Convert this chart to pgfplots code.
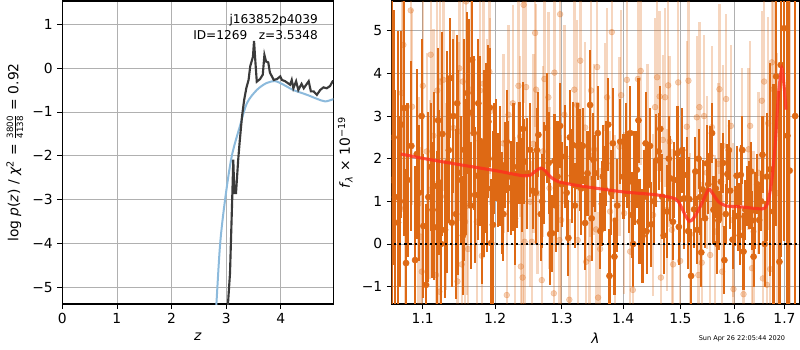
\documentclass[border=0pt]{standalone}
\usepackage{fontspec}
\setmainfont{DejaVu Sans}
\usepackage{pgfplots}
\usepackage{pgfplotstable}
\pgfplotsset{compat=1.18}
\definecolor{darkor}{RGB}{222,105,20}
\definecolor{modelred}{RGB}{255,45,30}
\definecolor{pzblack}{RGB}{58,58,58}
\definecolor{pzblue}{RGB}{140,186,220}
\definecolor{gridgray}{RGB}{176,176,176}

\pgfplotstableread{
x y e
1.0601 1.50 5.0
1.0620 2.50 3.0
1.0639 1.10 2.5
1.0677 0.50 4.5
1.0700 1.00 2.0
1.0720 2.80 2.2
1.0759 3.19 3.0
1.0781 -0.45 2.2
1.0800 1.50 1.8
1.0850 2.30 2.0
1.0899 -0.38 2.2
1.0921 2.11 2.0
1.0950 1.20 1.6
1.0985 3.00 1.8
1.1008 0.42 1.7
1.1044 -0.96 1.9
1.1074 1.10 2.0
1.1110 1.81 1.5
1.1130 0.80 1.6
1.1154 1.36 2.2
1.1186 0.39 1.8
1.1205 2.90 1.7
1.1222 1.44 1.7
1.1245 0.00 1.4
1.1263 2.58 2.4
1.1299 0.33 1.6
1.1331 1.92 2.6
1.1350 2.20 1.7
1.1372 3.89 1.4
1.1390 0.50 1.5
1.1413 3.00 1.8
1.1450 0.70 2.0
1.1465 3.30 1.6
1.1481 1.67 2.4
1.1523 1.50 1.5
1.1545 0.20 1.4
1.1561 2.21 2.6
1.1590 1.80 1.6
1.1607 3.54 1.9
1.1635 3.08 2.2
1.1655 0.90 1.5
1.1673 4.32 1.7
1.1695 2.60 1.8
1.1715 1.15 1.6
1.1750 1.60 1.5
1.1760 3.30 1.5
1.1785 2.42 2.0
1.1810 0.75 1.7
1.1843 1.89 2.2
1.1871 2.25 2.0
1.1890 1.30 1.5
1.1904 2.87 1.8
1.1925 3.20 1.4
1.1943 0.02 1.5
1.1968 0.45 2.2
1.1990 2.00 1.3
1.2010 2.20 1.2
1.2039 1.50 1.1
1.2068 1.83 1.4
1.2103 0.96 1.2
1.2120 0.70 1.1
1.2146 1.85 1.0
1.2170 2.40 1.2
1.2194 1.58 1.3
1.2229 1.31 1.1
1.2268 1.81 1.5
1.2290 0.60 1.1
1.2318 1.38 1.0
1.2357 2.13 1.2
1.2392 1.38 1.1
1.2410 2.70 1.1
1.2431 1.93 1.0
1.2476 1.66 1.3
1.2517 2.21 1.1
1.2557 1.25 0.9
1.2600 1.20 1.2
1.2620 2.20 1.0
1.2642 2.56 1.0
1.2679 0.70 1.1
1.2700 1.00 1.1
1.2730 1.66 1.2
1.2772 2.72 1.3
1.2800 1.90 1.2
1.2822 0.23 1.2
1.2853 0.25 0.9
1.2889 1.95 1.1
1.2910 0.90 1.1
1.2936 1.58 1.3
1.2977 2.77 1.0
1.3000 1.40 1.0
1.3055 2.05 1.2
1.3080 1.20 1.1
1.3107 0.14 0.9
1.3130 2.50 1.1
1.3161 1.60 1.1
1.3177 2.32 1.0
1.3210 0.90 1.0
1.3251 2.30 1.0
1.3293 1.97 1.2
1.3310 1.30 1.1
1.3337 2.30 0.9
1.3374 0.49 1.1
1.3411 1.66 1.0
1.3454 3.26 1.3
1.3480 0.60 1.0
1.3508 1.97 1.1
1.3535 1.66 0.9
1.3580 2.60 1.1
1.3620 0.30 0.9
1.3645 0.94 1.0
1.3662 1.58 1.2
1.3690 1.30 1.0
1.3716 1.89 1.0
1.3750 2.80 1.1
1.3771 -0.75 1.1
1.3800 1.20 1.0
1.3827 2.36 1.3
1.3854 -0.30 0.9
1.3900 0.90 1.1
1.3950 2.40 1.0
1.4006 1.58 1.0
1.4051 2.21 1.1
1.4073 1.74 0.9
1.4097 1.46 1.2
1.4120 2.60 1.1
1.4149 0.68 1.0
1.4170 0.00 1.0
1.4193 1.54 1.1
1.4234 1.74 0.9
1.4260 2.90 1.0
1.4279 0.52 1.0
1.4331 0.19 1.1
1.4350 1.10 1.1
1.4383 2.36 1.2
1.4400 0.30 1.0
1.4425 1.38 1.0
1.4460 2.30 0.9
1.4483 0.46 1.0
1.4530 1.00 1.0
1.4572 1.96 1.1
1.4612 2.17 0.9
1.4640 2.70 1.0
1.4672 1.11 1.0
1.4700 0.20 0.9
1.4762 0.76 1.1
1.4790 2.00 1.0
1.4815 1.54 1.0
1.4864 0.52 0.9
1.4890 1.50 0.9
1.4946 2.13 1.1
1.4970 0.40 0.9
1.4994 1.05 1.0
1.5030 2.20 1.0
1.5066 1.07 1.2
1.5114 1.62 0.9
1.5140 0.30 0.9
1.5162 1.05 1.0
1.5193 -0.75 1.1
1.5248 0.81 0.9
1.5270 1.70 0.8
1.5308 0.33 0.8
1.5330 2.00 0.7
1.5359 1.10 0.9
1.5380 -0.20 0.8
1.5408 1.28 0.7
1.5450 0.60 0.7
1.5483 1.89 0.9
1.5510 1.40 0.7
1.5545 2.07 0.7
1.5580 2.60 0.7
1.5607 0.80 0.8
1.5650 1.30 0.7
1.5680 0.00 0.7
1.5701 0.55 0.7
1.5746 1.46 0.9
1.5790 1.90 0.7
1.5814 -0.38 0.8
1.5840 0.70 0.7
1.5871 1.64 0.7
1.5900 2.20 0.7
1.5924 1.25 0.9
1.5970 0.10 0.7
1.6020 0.66 0.7
1.6050 1.60 0.7
1.6084 0.64 0.8
1.6110 0.20 0.7
1.6131 1.62 0.7
1.6160 2.20 0.8
1.6182 -0.18 0.9
1.6220 0.80 0.7
1.6261 1.13 0.7
1.6300 1.15 0.8
1.6330 1.70 0.7
1.6348 0.55 0.7
1.6380 -0.30 0.7
1.6410 0.78 0.9
1.6450 1.40 0.7
1.6490 0.56 0.8
1.6530 1.00 0.7
1.6556 2.09 0.9
1.6600 0.00 1.0
1.6645 1.58 1.5
1.6709 1.75 2.5
1.6776 0.76 3.0
1.6830 3.93 3.5
1.6897 -0.42 4.0
1.6925 4.20 4.5
1.6993 5.06 5.0
1.7060 2.54 5.5
1.7102 1.72 6.0
1.7220 3.00 6.0
}\darkdata

\pgfplotstableread{
x y e
1.0725 3.54 2.8
1.0746 4.67 2.5
1.0768 0.84 2.3
1.0842 5.48 2.8
1.0859 3.22 2.3
1.0942 0.94 2.5
1.0974 0.17 2.1
1.0987 -0.65 2.3
1.1000 3.71 2.6
1.1053 2.17 2.3
1.1097 1.27 2.1
1.1106 4.44 2.3
1.1141 2.54 2.5
1.1177 -0.73 2.2
1.1194 3.60 2.4
1.1222 -1.12 2.1
1.1232 3.81 2.3
1.1276 3.85 2.6
1.1313 1.11 2.2
1.1413 2.72 2.3
1.1469 -0.88 2.2
1.1481 2.64 2.1
1.1495 4.12 2.4
1.1528 -0.48 2.3
1.1542 3.81 2.2
1.1575 0.52 2.3
1.1588 5.69 2.5
1.1598 0.89 2.1
1.1616 -0.12 2.2
1.1658 3.62 2.3
1.1738 0.52 2.1
1.1785 3.60 2.4
1.1810 -0.28 2.2
1.1833 3.76 2.3
1.1881 2.72 2.1
1.1918 4.04 2.4
1.1928 3.11 2.2
1.2121 2.36 2.1
1.2170 -1.20 2.0
1.2194 3.03 2.1
1.2259 3.30 2.3
1.2293 0.52 2.0
1.2342 3.71 2.2
1.2367 2.52 1.9
1.2378 -0.53 2.1
1.2404 -0.79 2.0
1.2419 5.61 2.3
1.2434 0.05 1.9
1.2457 3.68 2.1
1.2517 0.99 2.0
1.2542 0.05 1.9
1.2567 2.35 2.1
1.2592 4.95 2.2
1.2607 3.62 2.0
1.2630 1.19 1.9
1.2694 -0.85 2.1
1.2709 2.17 2.0
1.2734 3.87 2.1
1.2795 3.44 2.0
1.2811 1.31 1.9
1.2879 -1.16 2.1
1.2888 4.02 2.2
1.2966 0.09 2.0
1.2977 5.39 2.3
1.2993 0.56 2.0
1.3044 3.03 2.1
1.3122 -1.31 1.9
1.3201 3.62 2.1
1.3244 3.26 2.0
1.3255 0.09 1.9
1.3296 4.30 2.2
1.3374 2.73 2.0
1.3390 -0.42 2.1
1.3443 -0.34 2.0
1.3449 2.07 1.9
1.3470 3.60 2.1
1.3519 2.22 2.0
1.3551 0.34 1.9
1.3568 4.15 2.2
1.3584 -1.26 2.0
1.3617 -0.12 1.9
1.3699 2.72 2.0
1.3732 3.44 2.1
1.3782 0.76 1.9
1.3810 4.97 2.2
1.3865 0.56 2.0
1.3937 2.28 2.1
1.3966 3.49 2.0
1.4017 0.72 1.9
1.4063 3.85 2.1
1.4118 -0.18 2.0
1.4164 -1.08 1.9
1.4250 3.87 2.1
1.4298 4.06 2.2
1.4418 2.22 2.0
1.4514 0.68 1.9
1.4549 3.21 2.1
1.4584 3.91 2.2
1.4628 3.46 2.0
1.4650 -0.79 1.9
1.4686 2.44 2.0
1.4725 3.44 2.1
1.4761 0.80 1.9
1.4779 3.72 2.1
1.4806 2.40 2.0
1.4845 0.33 1.9
1.4868 -0.48 2.0
1.4958 3.79 2.1
1.4994 -0.40 1.9
1.5114 2.75 2.0
1.5145 3.83 2.1
1.5175 0.23 1.9
1.5298 2.97 1.9
1.5326 -0.73 1.8
1.5345 3.21 2.0
1.5389 -0.44 1.9
1.5432 3.00 1.9
1.5483 1.67 1.8
1.5545 -0.26 1.9
1.5577 2.74 1.9
1.5639 0.29 1.8
1.5701 1.88 1.9
1.5720 3.63 2.0
1.5771 -0.65 1.8
1.5790 2.30 1.9
1.5847 3.40 2.0
1.5937 2.77 1.9
1.5975 0.56 1.8
1.5987 -1.06 1.9
1.6150 2.22 1.9
1.6182 -1.18 1.8
1.6280 2.22 1.9
1.6312 2.77 2.0
1.6348 -0.57 1.8
1.6378 0.29 1.9
1.6477 1.67 1.9
1.6543 3.36 2.1
1.6563 -0.81 2.0
1.6589 3.81 2.3
1.6643 -0.96 2.3
1.6669 2.83 2.5
1.6709 -0.59 2.7
1.6743 4.26 2.9
1.6776 3.63 3.1
1.6844 1.19 3.3
1.7116 1.72 4.3
}\lightdata

\begin{document}
\begin{tikzpicture}[font=\fontsize{10.4}{12}\selectfont]
\useasboundingbox (0,0) rectangle (600pt,262.5pt);
\pgfplotsset{
  mystyle/.style={
    scale only axis,
    axis line style={line width=0.8pt},
    grid=major,
    major grid style={color=gridgray, line width=0.6pt},
    tick align=outside,
    major tick length=3.6pt,
    tick style={line width=0.6pt, black},
    xtick pos=bottom, ytick pos=left,
    tick label style={font=\fontsize{10.4}{12}\selectfont},
    label style={font=\fontsize{10.4}{12}\selectfont},
    /pgf/number format/assume math mode=true,
    clip marker paths=true,
  }
}
% left panel
\begin{axis}[mystyle,
  at={(46.7pt,34.5pt)}, anchor=south west,
  width=203.25pt, height=227.25pt,
  xmin=0, xmax=4.96, ymin=-5.38, ymax=1.53,
  xtick={0,1,2,3,4},
  ytick={-5,-4,-3,-2,-1,0,1},
  yticklabels={−5,−4,−3,−2,−1,0,1},
  xlabel={\textit{z}},
  ylabel={log \textit{p}(\textit{z}) / \textit{χ}\textsuperscript{2} = $\frac{\hbox{\fontsize{6.5}{7}\selectfont 3800}}{\hbox{\fontsize{6.5}{7}\selectfont 4138}}$ = 0.92},
]
\addplot[pzblue, line width=1.5pt, smooth] coordinates {
(2.79,-6.0) (2.82,-5.4) (2.89,-4.0) (2.98,-3.0) (3.10,-2.02) (3.25,-1.33)
(3.38,-0.8) (3.56,-0.5) (3.74,-0.34) (3.90,-0.30) (4.05,-0.38) (4.23,-0.50)
(4.48,-0.61) (4.66,-0.70) (4.81,-0.76) (4.96,-0.71) (5.0,-0.70)
};
\addplot[pzblack, line width=1.6pt] coordinates {
(3.00,-6.0) (3.07,-4.68) (3.11,-3.0) (3.13,-2.09) (3.15,-2.85) (3.18,-2.85)
(3.22,-2.09) (3.25,-1.64) (3.29,-1.1) (3.33,-0.72) (3.37,-0.45) (3.41,-0.27) (3.44,0.04)
(3.49,0.26) (3.51,0.62) (3.53,0.23) (3.56,-0.31) (3.62,-0.25) (3.67,-0.15)
(3.70,0.30) (3.73,0.15) (3.77,0.13) (3.80,-0.10) (3.87,-0.27) (3.93,-0.25)
(3.99,-0.19) (4.02,-0.27) (4.08,-0.30) (4.17,-0.38) (4.20,-0.27) (4.23,-0.46)
(4.28,-0.30) (4.32,-0.50) (4.38,-0.36) (4.42,-0.46) (4.51,-0.30) (4.55,-0.53)
(4.60,-0.53) (4.66,-0.61) (4.72,-0.50) (4.78,-0.44) (4.84,-0.46) (4.90,-0.41)
(4.95,-0.30) (5.0,-0.30)
};
\node[anchor=east, inner sep=0pt, font=\fontsize{9.1}{11}\selectfont] at (rel axis cs:0.944,0.937) {j163852p4039};
\node[anchor=east, inner sep=0pt, font=\fontsize{9.1}{11}\selectfont] at (rel axis cs:0.944,0.888) {ID=1269\ \ \ z=3.5348};
\end{axis}

% right panel
\begin{axis}[mystyle,
  at={(293.8pt,34.5pt)}, anchor=south west,
  width=305.5pt, height=227.25pt,
  xmode=log,
  xmin=1.0597, xmax=1.7302, ymin=-1.41, ymax=5.7,
  xtick={1.1,1.2,1.3,1.4,1.5,1.6,1.7},
  xticklabels={1.1,1.2,1.3,1.4,1.5,1.6,1.7},
  minor xtick={},
  ytick={-1,0,1,2,3,4,5},
  yticklabels={−1,0,1,2,3,4,5},
  xlabel={\textit{λ}},
  ylabel={\textit{f}\textsubscript{\textit{λ}} × 10\textsuperscript{−19}},
]
\addplot[darkor, only marks, mark=*, mark size=2.2pt,
  mark options={opacity=0.3},
  error bars/.cd, y dir=both, y explicit,
  error mark=none,
  error bar style={line width=1.8pt, color=darkor, opacity=0.27},
] table[x=x, y=y, y error=e] {\lightdata};
\addplot[darkor, only marks, mark=*, mark size=2.3pt,
  error bars/.cd, y dir=both, y explicit,
  error mark=none,
  error bar style={line width=1.6pt, color=darkor},
] table[x=x, y=y, y error=e] {\darkdata};
\addplot[modelred, opacity=0.8, line width=2.3pt, smooth, tension=0.4] coordinates {
(1.0713,2.11) (1.0964,2.02) (1.1322,1.91) (1.1785,1.78) (1.2073,1.70) (1.2293,1.63)
(1.2416,1.60) (1.2517,1.61) (1.2592,1.70) (1.2679,1.78) (1.2745,1.72) (1.2822,1.58)
(1.2951,1.46) (1.3213,1.38) (1.3535,1.31) (1.4006,1.22) (1.4578,1.15) (1.4904,1.06)
(1.4994,0.92) (1.5084,0.68) (1.5162,0.53) (1.5236,0.60) (1.5359,0.87) (1.5510,1.27)
(1.5573,1.22) (1.5701,0.99) (1.5858,0.89) (1.6117,0.87) (1.6543,0.82) (1.6629,0.88)
(1.6676,1.03) (1.6743,1.50) (1.6810,2.32) (1.6877,3.50) (1.6945,4.13) (1.6999,3.62)
(1.7033,3.15)
};
\addplot[black, line width=1.6pt, dash pattern=on 1.6pt off 2.2pt] coordinates {(1.05,0) (1.74,0)};
\end{axis}
\node[font=\fontsize{4.9}{6}\selectfont] at (556.5pt,8.3pt) {Sun Apr 26 22:05:44 2020};
\end{tikzpicture}
\end{document}
